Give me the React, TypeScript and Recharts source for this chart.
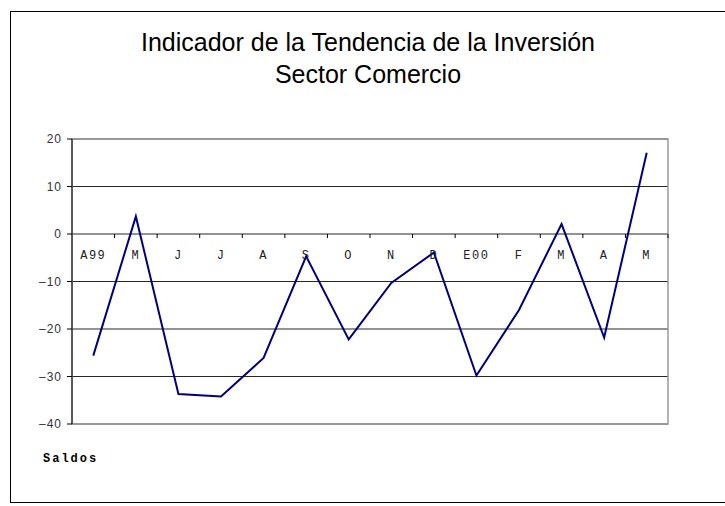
import {
  CartesianGrid,
  Line,
  LineChart,
  ReferenceArea,
  ReferenceDot,
  XAxis,
  YAxis,
} from "recharts"

const months = ["A99", "M", "J", "J", "A", "S", "O", "N", "D", "E00", "F", "M", "A", "M"]
const saldos = [-25.6, 3.7, -33.7, -34.2, -26.1, -4.7, -22.2, -10.3, -3.9, -29.8, -16.0, 2.1, -21.8, 17.1]
const yTicks = [-40, -30, -20, -10, 0, 10, 20]

// each month sits in the middle of its slot on a 0..14 axis
const data = months.map((m, i) => ({ name: m, x: i + 0.5, v: saldos[i] }))
const slotEdges = months.map((_, i) => i + 1)

const fmt = (v: number) => (v < 0 ? "\u2013" + Math.abs(v) : String(v))

export default function App() {
  return (
    <div
      style={{
        position: "absolute",
        left: 0,
        top: 0,
        width: 725,
        height: 506,
        overflow: "hidden",
        background: "#fff",
      }}
    >
      <div
        style={{
          position: "absolute",
          left: 10,
          top: 11,
          width: 720,
          height: 490,
          border: "1px solid #000",
        }}
      />
      <div
        style={{
          position: "absolute",
          left: 0,
          top: 26,
          width: 736,
          textAlign: "center",
          fontFamily: "'Liberation Sans', Arial, sans-serif",
          fontSize: 25,
          lineHeight: "32px",
          color: "#000",
        }}
      >
        Indicador de la Tendencia de la Inversión
        <br />
        Sector Comercio
      </div>
      <div
        style={{
          position: "absolute",
          left: 43,
          top: 452,
          fontFamily: "'Liberation Mono', 'Courier New', monospace",
          fontSize: 12,
          fontWeight: "bold",
          letterSpacing: 2,
          color: "#000",
        }}
      >
        Saldos
      </div>
      <div style={{ position: "absolute", left: 0, top: 0 }}>
        <LineChart
          width={725}
          height={506}
          data={data}
          margin={{ top: 139, right: 57, bottom: 82, left: 12 }}
        >
          <CartesianGrid vertical={false} stroke="#000" strokeOpacity={0.85} />
          <XAxis dataKey="x" type="number" domain={[0, 14]} hide />
          <YAxis
            width={60}
            domain={[-40, 20]}
            ticks={yTicks}
            interval={0}
            tickFormatter={fmt}
            axisLine={{ stroke: "#000" }}
            tickLine={{ stroke: "#000" }}
            tickSize={5}
            tickMargin={5}
            tick={{
              fill: "#333",
              fontSize: 12,
              fontFamily: "'Liberation Sans', Arial, sans-serif",
              letterSpacing: 1,
            }}
          />
          <ReferenceArea
            x1={0}
            x2={14}
            y1={-40}
            y2={20}
            fill="none"
            stroke="#9a9a9a"
            strokeWidth={1.5}
            ifOverflow="visible"
          />
          {slotEdges.map((k) => (
            <ReferenceDot
              key={"t" + k}
              x={k}
              y={0}
              r={0}
              ifOverflow="visible"
              shape={(p: any) => (
                <line x1={p.cx} y1={p.cy} x2={p.cx} y2={p.cy + 4} stroke="#000" />
              )}
            />
          ))}
          {data.map((d, i) => (
            <ReferenceDot
              key={"l" + i}
              x={d.x}
              y={0}
              r={0}
              ifOverflow="visible"
              shape={(p: any) => (
                <text
                  x={p.cx}
                  y={p.cy + 25}
                  textAnchor="middle"
                  fill="#222"
                  fontSize={12}
                  letterSpacing={1.5}
                  fontFamily="'Liberation Mono', 'Courier New', monospace"
                >
                  {d.name}
                </text>
              )}
            />
          ))}
          <Line
            type="linear"
            dataKey="v"
            stroke="#000080"
            strokeWidth={2}
            dot={false}
            isAnimationActive={false}
          />
        </LineChart>
      </div>
    </div>
  )
}
